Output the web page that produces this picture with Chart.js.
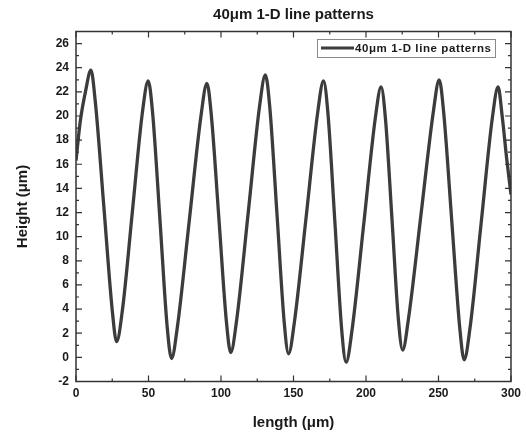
<!DOCTYPE html>
<html>
<head>
<meta charset="utf-8">
<script src="https://cdn.jsdelivr.net/npm/chart.js@4.4.1/dist/chart.umd.min.js"></script>
<style>
  html, body { margin: 0; padding: 0; background: #fff; }
  #wrap { width: 526px; height: 436px; }
</style>
</head>
<body>
<div id="wrap"><canvas id="profileChart" width="526" height="436"></canvas></div>
<script>
// Height profile scanned across the 40 µm line pattern
const lengthUm = [
    0, 3, 6.5, 10.3,
    13.3, 19.2, 25.0, 28.0,
    32.0, 38.9, 45.8, 49.8,
    52.8, 57.9, 62.9, 65.9,
    69.9, 78.1, 86.3, 90.3,
    93.3, 98.5, 103.7, 106.7,
    110.7, 118.7, 126.6, 130.6,
    133.6, 138.6, 143.6, 146.6,
    150.6, 158.7, 166.7, 170.7,
    173.7, 178.5, 183.3, 186.3,
    190.3, 198.4, 206.4, 210.4,
    213.4, 217.9, 222.3, 225.3,
    229.3, 237.9, 246.5, 250.5,
    253.5, 259.1, 264.7, 267.7,
    271.7, 279.4, 287.1, 291.1,
    294.1, 297, 300
];
const heightUm = [
    16.3, 19.6, 22.0, 23.8,
    21.2, 12.5, 3.9, 1.3,
    3.9, 12.1, 20.3, 22.9,
    20.3, 11.4, 2.5, -0.1,
    2.5, 11.3, 20.1, 22.7,
    20.1, 11.6, 3.0, 0.4,
    3.0, 11.9, 20.8, 23.4,
    20.8, 11.9, 2.9, 0.3,
    2.9, 11.6, 20.3, 22.9,
    20.3, 11.3, 2.2, -0.4,
    2.2, 11.0, 19.8, 22.4,
    19.8, 11.5, 3.2, 0.6,
    3.2, 11.8, 20.4, 23.0,
    20.4, 11.4, 2.4, -0.2,
    2.4, 11.1, 19.8, 22.4,
    19.8, 16.5, 13.5
];

const xTicks = [0, 50, 100, 150, 200, 250, 300];
const xMinorTicks = [25, 75, 125, 175, 225, 275];
const yTicks = [-2, 0, 2, 4, 6, 8, 10, 12, 14, 16, 18, 20, 22, 24, 26];
const yMinorTicks = [-1, 1, 3, 5, 7, 9, 11, 13, 15, 17, 19, 21, 23, 25];

const seriesLabel = '40μm 1-D line patterns';
const lineColor = '#3c3c3c';
const inkColor = '#1a1a1a';

Chart.defaults.font.family = '"Liberation Sans", Arial, sans-serif';
Chart.defaults.color = inkColor;

// Box frame with inward ticks on all four sides
const frameTicks = {
    id: 'frameTicks',
    afterDatasetsDraw(chart) {
        const { ctx, chartArea: a, scales: { x, y } } = chart;
        ctx.save();
        ctx.strokeStyle = '#333';
        ctx.lineWidth = 1.5;
        ctx.strokeRect(a.left, a.top, a.right - a.left, a.bottom - a.top);

        ctx.lineWidth = 1.2;
        ctx.beginPath();
        const xMarks = (vals, len) => vals.forEach(v => {
            const px = x.getPixelForValue(v);
            ctx.moveTo(px, a.bottom); ctx.lineTo(px, a.bottom - len);
            ctx.moveTo(px, a.top); ctx.lineTo(px, a.top + len);
        });
        const yMarks = (vals, len) => vals.forEach(v => {
            const py = y.getPixelForValue(v);
            ctx.moveTo(a.left, py); ctx.lineTo(a.left + len, py);
            ctx.moveTo(a.right, py); ctx.lineTo(a.right - len, py);
        });
        xMarks(xTicks, 6);
        xMarks(xMinorTicks, 3);
        yMarks(yTicks, 6);
        yMarks(yMinorTicks, 3);
        ctx.stroke();
        ctx.restore();
    }
};

// Legend box drawn inside the plot, top right
const insetLegend = {
    id: 'insetLegend',
    afterDraw(chart) {
        const { ctx, chartArea: a } = chart;
        const ds = chart.data.datasets[0];
        const boxW = 178, boxH = 18;
        const bx = a.right - 16 - boxW, by = a.top + 7.5;
        ctx.save();
        ctx.fillStyle = '#fff';
        ctx.fillRect(bx, by, boxW, boxH);
        ctx.strokeStyle = '#8a8a8a';
        ctx.lineWidth = 1;
        ctx.strokeRect(bx + 0.5, by + 0.5, boxW, boxH);

        const cy = by + boxH / 2;
        ctx.strokeStyle = ds.borderColor;
        ctx.lineWidth = 3;
        ctx.beginPath();
        ctx.moveTo(bx + 4, cy);
        ctx.lineTo(bx + 37, cy);
        ctx.stroke();

        ctx.fillStyle = inkColor;
        ctx.font = 'bold 11.5px "Liberation Sans", Arial, sans-serif';
        ctx.letterSpacing = '0.6px';
        ctx.textBaseline = 'middle';
        ctx.fillText(ds.label, bx + 38, cy + 0.5);
        ctx.restore();
    }
};

const points = lengthUm.map((v, i) => ({ x: v, y: heightUm[i] }));

new Chart(document.getElementById('profileChart'), {
    type: 'line',
    data: {
        datasets: [{
            label: seriesLabel,
            data: points,
            borderColor: lineColor,
            borderWidth: 3.3,
            pointRadius: 0,
            cubicInterpolationMode: 'monotone',
            fill: false
        }]
    },
    options: {
        responsive: false,
        animation: false,
        layout: { padding: { left: 0, right: 14, top: 0, bottom: 0 } },
        plugins: {
            legend: { display: false },
            tooltip: { enabled: false },
            title: {
                display: true,
                fullSize: false,
                text: seriesLabel,
                color: inkColor,
                font: { size: 15, weight: 'bold' },
                padding: { top: 6, bottom: 7.5 }
            }
        },
        scales: {
            x: {
                type: 'linear',
                min: 0,
                max: 300,
                afterBuildTicks: s => { s.ticks = xTicks.map(v => ({ value: v })); },
                afterFit: s => { s.height = 54.5; },
                grid: { display: false, drawTicks: false },
                border: { display: false },
                ticks: { padding: 5, font: { size: 12, weight: 'bold' }, color: inkColor, maxRotation: 0 },
                title: {
                    display: true,
                    text: 'length (μm)',
                    color: inkColor,
                    font: { size: 15, weight: 'bold' },
                    padding: { top: 0, bottom: 4 }
                }
            },
            y: {
                type: 'linear',
                min: -2,
                max: 27,
                afterBuildTicks: s => { s.ticks = yTicks.map(v => ({ value: v })); },
                afterFit: s => { s.width = 76; },
                grid: { display: false, drawTicks: false },
                border: { display: false },
                ticks: { padding: 7, font: { size: 12, weight: 'bold' }, color: inkColor },
                title: {
                    display: true,
                    text: 'Height (μm)',
                    color: inkColor,
                    font: { size: 15, weight: 'bold' },
                    padding: { top: 14, bottom: 0 }
                }
            }
        }
    },
    plugins: [frameTicks, insetLegend]
});
</script>
</body>
</html>
